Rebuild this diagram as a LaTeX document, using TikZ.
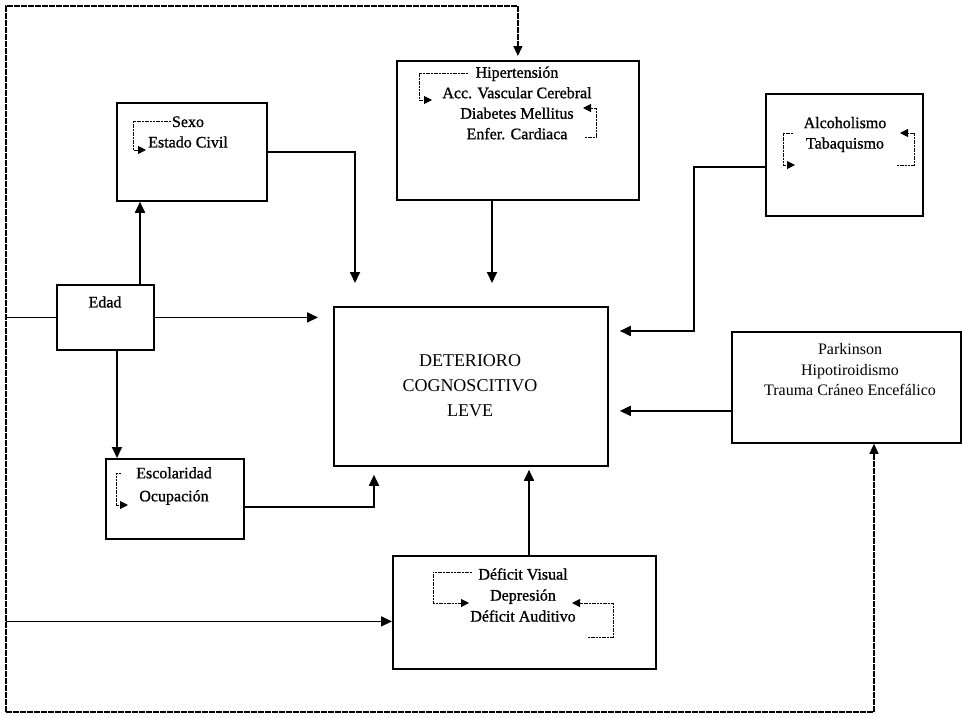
\documentclass[tikz,border=0pt]{standalone}
\usepackage{fontspec}
\setmainfont{Liberation Serif}
\newfontfamily\dkfont[FakeBold=1.0]{Liberation Serif}
\usetikzlibrary{arrows.meta}
\begin{document}
\begin{tikzpicture}[x=1pt,y=-1pt,
  box/.style={draw, line width=1.8pt, inner sep=0pt, anchor=north west},
  txt/.style={align=center, font=\fontsize{16}{20.5}\selectfont, inner sep=0pt},
  dtxt/.style={align=center, font=\dkfont\fontsize{16}{20.5}\selectfont, inner sep=0pt},
  conn/.style={line width=1.8pt, -{Triangle[length=11pt,width=10pt]}},
  plainline/.style={line width=1.8pt},
  loopline/.style={line width=1.3pt, dash pattern=on 6pt off 1pt},
  brk/.style={line width=1pt, dash pattern=on 2pt off 0.7pt, -{Triangle[length=8pt,width=8pt]}}]
\useasboundingbox[fill=white] (0,0) rectangle (962,718);

% boxes
\node[box, minimum width=150pt, minimum height=98pt]  (sexo) at (116,102) {};
\node[box, minimum width=242pt, minimum height=139pt] (hip)  at (396,60)  {};
\node[box, minimum width=157pt, minimum height=122pt] (alc)  at (765,93)  {};
\node[box, minimum width=97pt,  minimum height=65pt]  (edad) at (56,284)  {};
\node[box, minimum width=274pt, minimum height=159pt] (dcl)  at (333,306) {};
\node[box, minimum width=229pt, minimum height=111pt] (park) at (731,331) {};
\node[box, minimum width=138pt, minimum height=80pt]  (esc)  at (105,458) {};
\node[box, minimum width=263pt, minimum height=113pt] (def)  at (392,555) {};

% texts
\node[dtxt] (sexot) at (188,132) {Sexo\\Estado Civil};
\node[dtxt] (hipt) at (517,103) {Hipertensión\\Acc. Vascular Cerebral\\Diabetes Mellitus\\Enfer. Cardiaca};
\node[dtxt] (alct) at (845,134.5) {Alcoholismo\\Tabaquismo};
\node[dtxt] (edadt) at (105,302) {Edad};
\node[txt, font=\fontsize{18}{25}\selectfont] (dclt) at (470,386) {DETERIORO\\COGNOSCITIVO\\LEVE};
\node[txt] (parkt) at (850,370) {Parkinson\\Hipotiroidismo\\Trauma Cráneo Encefálico};
\node[dtxt, font=\dkfont\fontsize{16}{23}\selectfont] (esct) at (174,486) {Escolaridad\\Ocupación};
\node[dtxt, font=\dkfont\fontsize{16}{21}\selectfont] (deft) at (523,595) {Déficit Visual\\Depresión\\Déficit Auditivo};

% helper coordinates
\coordinate (hipout) at ([xshift=96pt]hip.south west);
\coordinate (sexoin) at ([xshift=22pt]dcl.north west);
\coordinate (alcout) at ([yshift=-12pt]alc.west);
\coordinate (alcin) at ([yshift=-25pt]dcl.north east);
\coordinate (parkout) at ([yshift=-23.5pt]park.west);
\coordinate (escout) at ([yshift=-8pt]esc.east);
\coordinate (escin) at ([xshift=41pt]dcl.south west);
\coordinate (defout) at ([xshift=137pt]def.north west);
\coordinate (edadup) at ([xshift=84pt]edad.north west);
\coordinate (edaddn) at ([xshift=61pt]edad.south west);
\coordinate (defin) at ([yshift=-9pt]def.west);
\coordinate (tl) at (6,6);
\coordinate (bl) at (6,712);
\coordinate (br) at (874,712);

% connectors to DCL
\draw[conn, shorten >=15pt] (edad.east) -- (edad.east -| dcl.west);
\draw[conn, shorten >=23pt] (sexo.east) -| (sexoin);
\draw[conn, shorten >=23pt] (hipout) -- (hipout |- dcl.north);
\draw[conn, shorten >=11pt] (alcout) -- ++(-71,0) |- (alcin);
\draw[conn, shorten >=11pt] (parkout) -- (parkout -| dcl.east);
\draw[conn, shorten >=8pt] (escout) -| (escin);
\draw[conn, shorten >=3pt] (defout) -- (defout |- dcl.south);
\draw[conn] (edadup) -- (edadup |- sexo.south);
\draw[conn] (edaddn) -- (edaddn |- esc.north);

% outer loop
\draw[loopline, -{Triangle[length=10pt,width=9pt]}, shorten >=4pt] (bl) -- (tl) -- (tl -| hip.north) -- (hip.north);
\draw[loopline, -{Triangle[length=10pt,width=9pt]}] (bl) -- (br) -- (br |- park.south);
\draw[plainline] (tl |- edad.west) -- (edad.west);
\draw[conn] (defin -| tl) -- (defin);

% inner brackets
\draw[brk] (171,121) -- (133,121) -- (133,150) -- (146,150);
\draw[brk] (468,73) -- (419,73) -- (419,100) -- (432,100);
\draw[brk] (585,137) -- (596,137) -- (596,108) -- (583,108);
\draw[brk] (793,133) -- (783,133) -- (783,165) -- (795,165);
\draw[brk] (897,165) -- (914,165) -- (914,133) -- (900,133);
\draw[brk] (121,473) -- (116,473) -- (116,505) -- (128,505);
\draw[brk] (472,572) -- (433,572) -- (433,603) -- (469,603);
\draw[brk] (588,637) -- (613,637) -- (613,603) -- (572,603);
\end{tikzpicture}
\end{document}
